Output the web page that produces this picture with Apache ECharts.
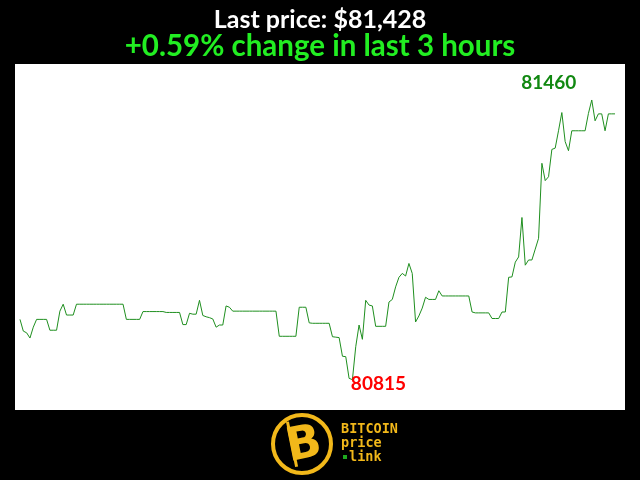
<!DOCTYPE html>
<html><head><meta charset="utf-8">
<script src="https://cdn.jsdelivr.net/npm/echarts@6/dist/echarts.min.js"></script>
<style>html,body{margin:0;background:#000}#c{width:640px;height:480px}</style>
</head><body><div id="c"></div>
<script>
const prices = [
80954,80927,80923,80911,80936,80954,80954,80954,80954,80929,
80929,80929,80973,80989,80964,80964,80964,80989,80989,80989,
80989,80989,80989,80989,80989,80989,80989,80989,80989,80989,
80989,80989,80954,80954,80954,80954,80954,80972,80972,80972,
80972,80972,80972,80972,80970,80970,80970,80970,80970,80942,
80942,80968,80966,80966,80998,80963,80960,80958,80955,80936,
80941,80941,80985,80982,80973,80973,80973,80973,80973,80973,
80973,80973,80973,80973,80973,80973,80973,80973,80915,80915,
80915,80915,80915,80915,80982,80982,80982,80946,80945,80945,
80945,80945,80945,80945,80914,80913,80912,80869,80868,80818,
80815,80891,80941,80908,80998,80987,80985,80938,80938,80938,
80938,80994,81000,81029,81051,81060,81054,81083,81060,80948,
80962,80980,81005,81000,81000,81000,81020,81008,81008,81008,
81008,81008,81008,81008,81008,81008,80971,80969,80969,80969,
80969,80969,80956,80956,80956,80971,80971,81051,81052,81086,
81098,81189,81079,81091,81091,81116,81141,81314,81274,81283,
81346,81349,81389,81431,81364,81343,81389,81389,81389,81389,
81389,81429,81460,81412,81428,81428,81389,81428,81428,81428
];
const lastPriceText = 'Last price: $81,428';
const changeText = '+0.59% change in last 3 hours';
const logoLines = ['BITCOIN', 'price', 'link'];

const chart = echarts.init(document.getElementById('c'), null, {renderer: 'canvas'});
const yellow = '#f2b81a';
const monoStyle = (t) => ({text: t, fill: yellow, fontFamily: 'DejaVu Sans Mono', fontWeight: 'bold', fontSize: 13.5, verticalAlign: 'middle'});
chart.setOption({
  backgroundColor: '#000',
  animation: false,
  title: [
    {text: lastPriceText, left: 'center', top: 2,
     textStyle: {color: '#fff', fontFamily: 'Lato', fontWeight: 'bold', fontSize: 25}},
    {text: changeText, left: 'center', top: 26,
     textStyle: {color: '#22ee22', fontFamily: 'Lato', fontWeight: 'bold', fontSize: 29.5}}
  ],
  grid: {left: 15, right: 15, top: 64, bottom: 70, show: true, backgroundColor: '#fff', borderWidth: 0},
  xAxis: {type: 'value', min: -1.5, max: 182, show: false},
  yAxis: {type: 'value', min: 80745, max: 81543, show: false},
  series: [{
    type: 'line',
    data: prices.map((v, i) => [i, v]),
    showSymbol: false,
    lineStyle: {color: '#1f8f1f', width: 1},
    markPoint: {
      symbol: 'circle', symbolSize: 0,
      label: {show: true, fontSize: 19, fontWeight: 'bold', fontFamily: 'Lato'},
      data: [
        {type: 'max', label: {offset: [-43, -17], color: '#118811'}},
        {type: 'min', label: {offset: [26, 4], color: '#ff0000'}}
      ]
    }
  }],
  graphic: [
    {type: 'circle', shape: {cx: 302, cy: 444, r: 29}, style: {fill: 'none', stroke: yellow, lineWidth: 4}},
    {type: 'text', x: 304, y: 446, rotation: 0.2,
     style: {text: 'B', fill: yellow, fontFamily: 'DejaVu Sans', fontWeight: 'bold', fontSize: 46, align: 'center', verticalAlign: 'middle'}},
    {type: 'rect', x: 286, y: 422, rotation: 0.2, shape: {x: 0, y: 0, width: 3, height: 46}, style: {fill: yellow}},
    {type: 'text', x: 341, y: 429, style: monoStyle(logoLines[0])},
    {type: 'text', x: 341, y: 443, style: monoStyle(logoLines[1])},
    {type: 'rect', shape: {x: 343, y: 455, width: 4, height: 4}, style: {fill: '#1faa1f'}},
    {type: 'text', x: 349, y: 457, style: monoStyle(logoLines[2])}
  ]
});
</script>
</body></html>
